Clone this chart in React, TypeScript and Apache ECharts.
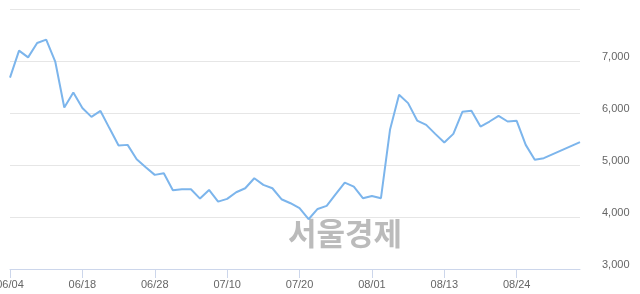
import React, { useEffect, useRef } from "react";
import * as echarts from "echarts";

const dates: string[] = [
  "06/04", "06/05", "06/07", "06/08", "06/11", "06/12", "06/14", "06/15",
  "06/18", "06/19", "06/20", "06/21", "06/22", "06/25", "06/26", "06/27",
  "06/28", "06/29", "07/02", "07/03", "07/04", "07/05", "07/06", "07/09",
  "07/10", "07/11", "07/12", "07/13", "07/16", "07/17", "07/18", "07/19",
  "07/20", "07/23", "07/24", "07/25", "07/26", "07/27", "07/30", "07/31",
  "08/01", "08/02", "08/03", "08/06", "08/07", "08/08", "08/09", "08/10",
  "08/13", "08/14", "08/16", "08/17", "08/20", "08/21", "08/22", "08/23",
  "08/24", "08/27", "08/28", "08/29", "08/30", "08/31", "09/03", "09/04",
];

const prices: number[] = [
  6680, 7200, 7070, 7345, 7410, 6990, 6105, 6395,
  6095, 5925, 6040, 5705, 5374, 5387, 5112, 4958,
  4810, 4842, 4515, 4534, 4534, 4354, 4521, 4296,
  4348, 4476, 4553, 4746, 4617, 4553, 4342, 4265,
  4169, 3957, 4155, 4213, 4438, 4662, 4585, 4361,
  4405, 4361, 5676, 6350, 6190, 5855, 5772, 5599,
  5432, 5599, 6023, 6042, 5740, 5836, 5946, 5836,
  5849, 5387, 5099, 5131, 5208, 5285, 5362, 5439,
];

const yMin = 3000;
const yMax = 8000;
const yStep = 1000;
const watermark = "서울경제";

export default function App() {
  const ref = useRef<HTMLDivElement>(null);
  useEffect(() => {
    if (!ref.current) return;
    const chart = echarts.init(ref.current, undefined, { renderer: "svg" });
    const font = "'Liberation Sans', Arial, sans-serif";
    chart.setOption({
      animation: false,
      grid: {
        left: 10,
        right: 60,
        top: 9,
        bottom: 25,
        containLabel: false,
        outerBoundsMode: "none",
      },
      xAxis: {
        type: "category",
        data: dates,
        boundaryGap: false,
        axisLine: { show: true, lineStyle: { color: "#ccd6eb", width: 1 } },
        axisTick: { show: true, interval: 7, length: 9, lineStyle: { color: "#ccd6eb" } },
        axisLabel: {
          interval: 7,
          color: "#666666",
          fontSize: 11,
          fontFamily: font,
          margin: 9,
          hideOverlap: false,
        },
        splitLine: { show: false },
      },
      yAxis: {
        type: "value",
        position: "right",
        min: yMin,
        max: yMax,
        interval: yStep,
        axisLine: { show: false },
        axisTick: { show: false },
        axisLabel: {
          showMaxLabel: false,
          align: "left",
          verticalAlign: "bottom",
          margin: 22,
          color: "#666666",
          fontSize: 11,
          fontFamily: font,
          formatter: (v: number) => v.toLocaleString("en-US"),
        },
        splitLine: { show: true, lineStyle: { color: "#e6e6e6", width: 1 } },
      },
      graphic: [
        {
          type: "text",
          left: 288,
          top: 216,
          z: 0,
          style: {
            text: watermark,
            fontSize: 31,
            fontWeight: "bold",
            fontFamily: "'Noto Sans CJK KR', sans-serif",
            fill: "#bbbbbb",
          },
        },
      ],
      series: [
        {
          type: "line",
          data: prices,
          symbol: "none",
          z: 3,
          lineStyle: { color: "#7cb5ec", width: 2 },
        },
      ],
    });
    return () => chart.dispose();
  }, []);
  return (
    <div
      ref={ref}
      style={{ position: "fixed", left: 0, top: 0, width: 640, height: 294 }}
    />
  );
}
